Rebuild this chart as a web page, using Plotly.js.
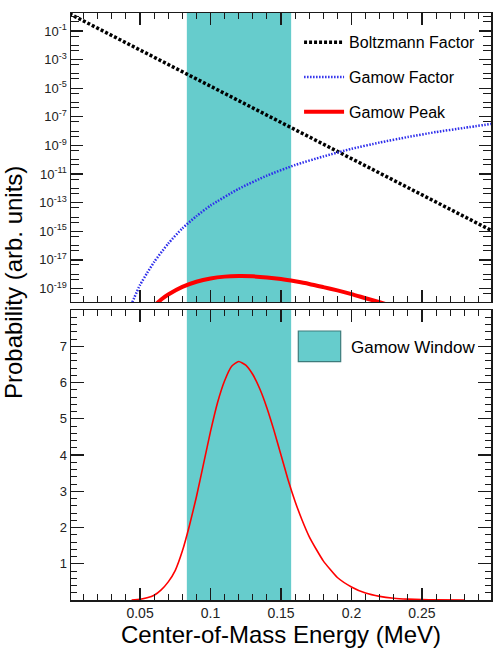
<!DOCTYPE html>
<html>
<head>
<meta charset="utf-8">
<script src="https://cdn.plot.ly/plotly-3.0.1.min.js"></script>
<style>
  html, body { margin: 0; padding: 0; background: #ffffff; }
  #chart { width: 498px; height: 657px; }
</style>
</head>
<body>
<div id="chart"></div>
<script>
// Boltzmann factor exp(-E/kT) (top panel, log scale)
const energyBoltzmann = [0.0, 0.05, 0.10, 0.15, 0.20, 0.25, 0.30];
const boltzmannFactor = [1.6, 4.7e-3, 1.4e-5, 4.1e-8, 1.2e-10, 3.5e-13, 1.05e-15];

// Gamow (tunnelling) factor
const energyGamow = [0.0445, 0.05, 0.055, 0.06, 0.07, 0.08, 0.09, 0.10, 0.12, 0.14,
                     0.16, 0.18, 0.20, 0.22, 0.24, 0.26, 0.28, 0.30];
const gamowFactor = [1.1e-20, 1.8e-19, 1.2e-18, 7.2e-18, 1.4e-16, 1.6e-15, 1.15e-14, 6.3e-14,
                     9.3e-13, 7.8e-12, 4.3e-11, 1.7e-10, 5.8e-10, 1.6e-9, 3.9e-9, 8.7e-9,
                     1.7e-8, 3.3e-8];

// Product of the two: the Gamow peak (top panel)
const energyPeakLog = [0.060, 0.065, 0.07, 0.08, 0.09, 0.10, 0.11, 0.12, 0.13, 0.14,
                       0.15, 0.16, 0.17, 0.18, 0.19, 0.20, 0.21, 0.22, 0.23];
const gamowPeakLog = [6.2e-21, 1.7e-20, 3.8e-20, 1.3e-19, 3.0e-19, 5.1e-19, 6.8e-19, 7.4e-19,
                      7.1e-19, 6.0e-19, 4.6e-19, 3.2e-19, 2.1e-19, 1.26e-19, 7.4e-20,
                      4.1e-20, 2.1e-20, 1.1e-20, 5.5e-21];

// Gamow peak on a linear scale (bottom panel)
const energyPeakLin = [0.044, 0.050, 0.055, 0.060, 0.065, 0.070, 0.075, 0.080, 0.085, 0.090,
                       0.095, 0.100, 0.105, 0.110, 0.115, 0.120, 0.125, 0.130, 0.135, 0.140,
                       0.145, 0.150, 0.155, 0.160, 0.165, 0.170, 0.175, 0.180, 0.190, 0.200,
                       0.210, 0.220, 0.230, 0.240, 0.250, 0.260, 0.280];
const gamowPeakLin = [0.0, 0.02, 0.06, 0.13, 0.28, 0.50, 0.82, 1.35, 2.05, 2.85,
                      3.75, 4.65, 5.45, 6.05, 6.45, 6.58, 6.48, 6.22, 5.82, 5.30,
                      4.68, 4.00, 3.32, 2.72, 2.20, 1.75, 1.40, 1.08, 0.62, 0.36,
                      0.19, 0.10, 0.05, 0.025, 0.01, 0.004, 0.0];

// Gamow window limits (MeV)
const gamowWindow = [0.0832, 0.1572];

// Axis tick labels
const logTickPowers = [-1, -3, -5, -7, -9, -11, -13, -15, -17, -19];
const linTicks = [1, 2, 3, 4, 5, 6, 7];
const energyTicks = [0.05, 0.1, 0.15, 0.2, 0.25];
const energyTickText = ['0.05', '0.1', '0.15', '0.2', '0.25'];

const FONT = 'Liberation Sans, Arial, Helvetica, sans-serif';
const WINDOW_COLOR = '#66cccc';
const AXIS_COLOR = '#1a1a1a';

// labelled decades carry the long ticks; the other decades and a
// sub-decade mark get the shorter minor ticks
const logTickVals = logTickPowers.map(p => Math.pow(10, p));
const logTickText = logTickPowers.map(p => '10<sup>' + p + '</sup>');
const minorLog = [];
for (let p = -20; p <= 0; p++) {
  if (!logTickPowers.includes(p)) minorLog.push(Math.pow(10, p));
  minorLog.push(Math.pow(10, p - 0.35));
}

const traces = [
  {
    x: energyBoltzmann, y: boltzmannFactor, xaxis: 'x2', yaxis: 'y2',
    type: 'scatter', mode: 'lines', name: 'Boltzmann Factor',
    legendgroup: 'b',
    line: { color: '#000000', width: 3.5, dash: '3px,2px' }
  },
  {
    x: energyGamow, y: gamowFactor, xaxis: 'x2', yaxis: 'y2',
    type: 'scatter', mode: 'lines', name: 'Gamow Factor',
    legendgroup: 'g',
    line: { color: 'rgb(45,45,235)', width: 2.5, dash: '1.5px,1.5px', shape: 'spline', smoothing: 0.6 }
  },
  {
    x: energyPeakLog, y: gamowPeakLog, xaxis: 'x2', yaxis: 'y2',
    type: 'scatter', mode: 'lines', name: 'Gamow Peak',
    legendgroup: 'p',
    line: { color: '#ff0000', width: 4, shape: 'spline', smoothing: 0.6 }
  },
  {
    x: energyPeakLin, y: gamowPeakLin, xaxis: 'x', yaxis: 'y',
    type: 'scatter', mode: 'lines', name: 'Gamow Peak (linear)',
    showlegend: false,
    line: { color: '#ff0000', width: 1.6, shape: 'spline', smoothing: 0.5 }
  }
];

const xCommon = {
  range: [0.001, 0.299],
  showgrid: false, zeroline: false,
  showline: true, linecolor: AXIS_COLOR, linewidth: 1.5, mirror: 'ticks',
  ticks: 'inside', ticklen: 12, tickwidth: 1.2, tickcolor: AXIS_COLOR,
  tickmode: 'array', tickvals: energyTicks, ticktext: energyTickText,
  minor: { dtick: 0.01, tick0: 0, ticklen: 6, tickwidth: 1, tickcolor: AXIS_COLOR, ticks: 'inside' },
  tickfont: { family: FONT, size: 14, color: '#222' }
};

const layout = {
  width: 498, height: 657,
  margin: { l: 71, r: 7, t: 13, b: 57 },
  paper_bgcolor: '#ffffff', plot_bgcolor: '#ffffff',
  font: { family: FONT, color: '#000' },
  showlegend: true,
  xaxis: Object.assign({}, xCommon, {
    anchor: 'y',
    title: { text: 'Center-of-Mass Energy (MeV)', font: { family: FONT, size: 24, color: '#000' }, standoff: 5 }
  }),
  xaxis2: Object.assign({}, xCommon, { anchor: 'y2', matches: 'x', showticklabels: false }),
  yaxis: {
    domain: [0, 0.494], range: [0, 8],
    showgrid: false, zeroline: false,
    showline: true, linecolor: AXIS_COLOR, linewidth: 1.5, mirror: 'ticks',
    ticks: 'inside', ticklen: 13, tickwidth: 1.2, tickcolor: AXIS_COLOR,
    tickmode: 'array', tickvals: linTicks,
    minor: { dtick: 0.2, tick0: 0, ticklen: 6, tickwidth: 1, tickcolor: AXIS_COLOR, ticks: 'inside' },
    tickfont: { family: FONT, size: 13, color: '#222' }
  },
  yaxis2: {
    domain: [0.5077, 1], type: 'log', range: [-19.94, 0.26],
    showgrid: false, zeroline: false,
    showline: true, linecolor: AXIS_COLOR, linewidth: 1.5, mirror: 'ticks',
    ticks: 'inside', ticklen: 12, tickwidth: 1.2, tickcolor: AXIS_COLOR,
    tickmode: 'array', tickvals: logTickVals, ticktext: logTickText,
    minor: { tickmode: 'array', tickvals: minorLog, ticklen: 8, tickwidth: 1, tickcolor: AXIS_COLOR, ticks: 'inside' },
    tickfont: { family: FONT, size: 13, color: '#222' }
  },
  legend: {
    x: 0.543, y: 0.979, xanchor: 'left', yanchor: 'top',
    bgcolor: 'rgba(0,0,0,0)', borderwidth: 0,
    traceorder: 'grouped', tracegroupgap: 11, itemwidth: 40,
    font: { family: FONT, size: 16, color: '#000' }
  },
  shapes: [
    {
      type: 'rect', layer: 'below', xref: 'x', yref: 'y domain',
      x0: gamowWindow[0], x1: gamowWindow[1], y0: 0, y1: 1,
      fillcolor: WINDOW_COLOR, line: { width: 0 }
    },
    {
      type: 'rect', layer: 'below', xref: 'x2', yref: 'y2 domain',
      x0: gamowWindow[0], x1: gamowWindow[1], y0: 0, y1: 1,
      fillcolor: WINDOW_COLOR, line: { width: 0 }
    },
    // legend swatch for the window
    {
      type: 'rect', xref: 'paper', yref: 'paper',
      x0: 0.5412, x1: 0.6421, y0: 0.406, y1: 0.4583,
      fillcolor: WINDOW_COLOR, line: { color: '#3d7c7c', width: 1.2 }
    }
  ],
  annotations: [
    {
      text: 'Gamow Window', xref: 'paper', yref: 'paper',
      x: 0.661, y: 0.431, xanchor: 'left', yanchor: 'middle', showarrow: false,
      font: { family: FONT, size: 17, color: '#000' }
    },
    {
      text: 'Probability (arb. units)', xref: 'paper', yref: 'paper',
      x: -0.138, y: 0.54, xanchor: 'center', yanchor: 'middle', showarrow: false,
      textangle: -90,
      font: { family: FONT, size: 24, color: '#000' }
    }
  ]
};

Plotly.newPlot('chart', traces, layout, { displayModeBar: false, staticPlot: true });
</script>
</body>
</html>
